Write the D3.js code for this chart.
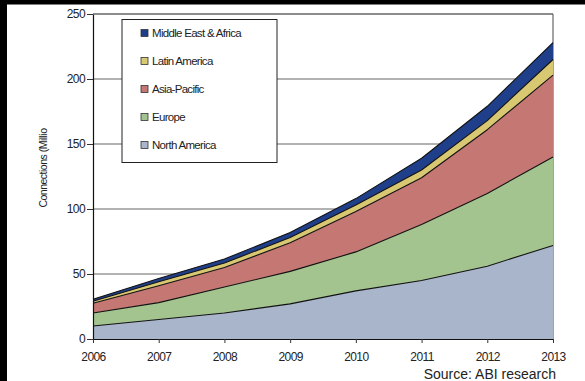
<!DOCTYPE html>
<html>
<head>
<meta charset="utf-8">
<script src="https://cdn.jsdelivr.net/npm/d3@7"></script>
<style>
  html, body { margin: 0; padding: 0; background: #fff; }
  svg { display: block; font-family: "Liberation Sans", Arial, sans-serif; }
</style>
</head>
<body>
<svg id="chart" width="585" height="381"></svg>
<script>
// Connections by region, millions
const years = [2006, 2007, 2008, 2009, 2010, 2011, 2012, 2013];
const northAmerica = [10, 15, 20, 27, 37, 45, 56, 72];
const europe       = [10, 13, 20, 25, 30, 43, 56, 68];
const asiaPacific  = [7.5, 13, 15, 22, 31, 36, 49, 63];
const latinAmerica = [1.5, 3, 3.5, 4, 5, 6, 7, 12];
const middleEast   = [1.5, 2.5, 3, 4, 5, 9, 11, 13];
const yTicks = [0, 50, 100, 150, 200, 250];

const seriesNames = ["North America", "Europe", "Asia-Pacific", "Latin America", "Middle East & Africa"];
const seriesValues = [northAmerica, europe, asiaPacific, latinAmerica, middleEast];
const seriesColors = ["#a8b5cb", "#a3c48e", "#c47773", "#d9c872", "#203f8a"];

const rows = years.map((yr, i) => {
  const r = { year: yr };
  seriesNames.forEach((n, k) => r[n] = seriesValues[k][i]);
  return r;
});

const svg = d3.select("#chart");

// dark border strips along top and left edges
svg.append("rect").attr("x", 0).attr("y", 0).attr("width", 585).attr("height", 4.5).attr("fill", "#000");
svg.append("rect").attr("x", 0).attr("y", 0).attr("width", 7).attr("height", 381).attr("fill", "#000");

const plotLeft = 93, plotRight = 553, plotTop = 14, plotBottom = 339;

const x = d3.scaleLinear().domain([2006, 2013]).range([plotLeft, plotRight]);
const y = d3.scaleLinear().domain([0, 250]).range([plotBottom, plotTop]);

// horizontal gridlines
svg.append("g").selectAll("line")
  .data(yTicks.filter(t => t > 0))
  .join("line")
  .attr("x1", plotLeft).attr("x2", plotRight)
  .attr("y1", d => y(d)).attr("y2", d => y(d))
  .attr("stroke", "#666").attr("stroke-width", 1.2);

// right frame edge
svg.append("line")
  .attr("x1", plotRight).attr("x2", plotRight).attr("y1", plotTop).attr("y2", plotBottom)
  .attr("stroke", "#666").attr("stroke-width", 1.2);

// stacked areas
const stack = d3.stack().keys(seriesNames);
const layers = stack(rows);
const area = d3.area()
  .x(d => x(d.data.year))
  .y0(d => y(d[0]))
  .y1(d => y(d[1]));
const topLine = d3.line()
  .x(d => x(d.data.year))
  .y(d => y(d[1]));

svg.append("g").selectAll("path.area")
  .data(layers)
  .join("path")
  .attr("class", "area")
  .attr("d", area)
  .attr("fill", (d, i) => seriesColors[i]);

svg.append("g").selectAll("path.edge")
  .data(layers)
  .join("path")
  .attr("class", "edge")
  .attr("d", topLine)
  .attr("fill", "none")
  .attr("stroke", "#111")
  .attr("stroke-width", 1.1)
  .attr("stroke-linejoin", "round");

// y axis
const yAxis = svg.append("g")
  .attr("transform", `translate(${plotLeft},0)`)
  .call(d3.axisLeft(y).tickValues(yTicks).tickSize(6).tickPadding(2).tickSizeOuter(0));
yAxis.select(".domain").attr("stroke", "#111").attr("stroke-width", 1.2);
yAxis.selectAll(".tick line").attr("stroke", "#333");
yAxis.selectAll("text").attr("font-size", 12).attr("fill", "#222")
  .attr("font-family", "Liberation Sans, Arial, sans-serif").attr("letter-spacing", -0.6);

// x axis
const xAxis = svg.append("g")
  .attr("transform", `translate(0,${plotBottom})`)
  .call(d3.axisBottom(x).tickValues(years).tickFormat(d3.format("d")).tickSize(4).tickPadding(9).tickSizeOuter(0));
xAxis.select(".domain").attr("stroke", "#111").attr("stroke-width", 1.2);
xAxis.selectAll(".tick line").attr("stroke", "#333");
xAxis.selectAll("text").attr("font-size", 12).attr("fill", "#222")
  .attr("font-family", "Liberation Sans, Arial, sans-serif").attr("letter-spacing", -0.6);

// top frame edge
svg.append("line")
  .attr("x1", plotLeft).attr("x2", plotRight).attr("y1", plotTop).attr("y2", plotTop)
  .attr("stroke", "#666").attr("stroke-width", 1.2);

// y axis title (clipped at the plot's top)
svg.append("text")
  .attr("transform", "translate(47,168) rotate(-90)")
  .attr("text-anchor", "middle")
  .attr("font-size", 10.5)
  .attr("letter-spacing", -0.5)
  .attr("fill", "#222")
  .text("Connections (Millio");

// legend
const legend = svg.append("g");
legend.append("rect")
  .attr("x", 122).attr("y", 19.5).attr("width", 155).attr("height", 143)
  .attr("fill", "#fff").attr("stroke", "#222").attr("stroke-width", 1);
const legendOrder = [4, 3, 2, 1, 0];
const items = legend.selectAll("g.item")
  .data(legendOrder)
  .join("g")
  .attr("class", "item")
  .attr("transform", (d, i) => `translate(0,${33 + i * 28})`);
items.append("rect")
  .attr("x", 141).attr("y", -3.5).attr("width", 7).attr("height", 7)
  .attr("fill", d => seriesColors[d]).attr("stroke", "#333").attr("stroke-width", 0.8);
items.append("text")
  .attr("x", 152).attr("y", 4)
  .attr("font-size", 11.5)
  .attr("letter-spacing", -0.7)
  .attr("fill", "#222")
  .text(d => seriesNames[d]);

// source note
svg.append("text")
  .attr("x", 556).attr("y", 379)
  .attr("text-anchor", "end")
  .attr("font-size", 14)
  .attr("fill", "#222")
  .text("Source: ABI research");
</script>
</body>
</html>
